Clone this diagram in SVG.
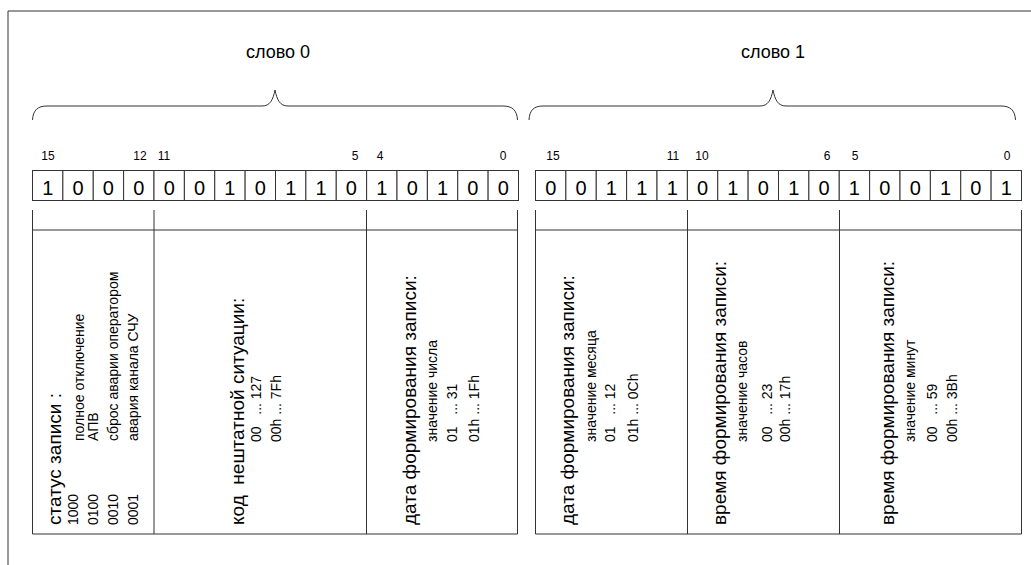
<svg xmlns="http://www.w3.org/2000/svg" width="1031" height="565" viewBox="0 0 1031 565">
<style>
text{font-family:"Liberation Sans",Arial,sans-serif;fill:#000}
.ln{stroke:#333;stroke-width:1;fill:none}
.cell{fill:#fff;stroke:#333;stroke-width:1}
.bit{font-size:20px;text-anchor:middle}
.num{font-size:12px;text-anchor:middle}
.word{font-size:18px;text-anchor:middle}
.big{font-size:19px;white-space:pre}
.sm{font-size:14px;white-space:pre}
</style>
<rect width="1031" height="565" fill="#fff"/>
<g id="frame"><path class="ln" d="M8,565 V11 H1031"/></g>
<g id="connectors">
<path class="ln" d="M32.5,120 C33,110 38,106 47,106 H262 C270,106 273,100 275,90 C277,100 280,106 288,106 H503 C512,106 517,110 517.5,120"/>
<path class="ln" d="M529,120 C529.5,110 534,106 543,106 H760 C768,106 771,100 773,90 C775,100 778,106 786,106 H1001 C1010,106 1015,110 1015.5,120"/>
<path class="ln" d="M32.5,210 V534 M154,210 V534 M366.5,210 V534 M517.5,210 V534 M32.5,230 H517.5 M32.5,534 H517.5"/>
<path class="ln" d="M535.5,210 V534 M687.5,210 V534 M839.5,210 V534 M1021.5,210 V534 M535.5,230 H1021.5 M535.5,534 H1021.5"/>
</g>
<g id="word0">
<text class="word" x="278" y="58">слово 0</text>
<g class="num-labels">
<text class="num" x="48" y="160">15</text><text class="num" x="140" y="160">12</text><text class="num" x="164" y="160">11</text><text class="num" x="355" y="160">5</text><text class="num" x="380" y="160">4</text><text class="num" x="503" y="160">0</text>
</g>
<g id="bits0">
<rect class="cell" x="32.5" y="170.5" width="30.375" height="30"/><rect class="cell" x="62.875" y="170.5" width="30.375" height="30"/><rect class="cell" x="93.25" y="170.5" width="30.375" height="30"/><rect class="cell" x="123.625" y="170.5" width="30.375" height="30"/><rect class="cell" x="154" y="170.5" width="30.375" height="30"/><rect class="cell" x="184.375" y="170.5" width="30.375" height="30"/><rect class="cell" x="214.75" y="170.5" width="30.375" height="30"/><rect class="cell" x="245.125" y="170.5" width="30.375" height="30"/><rect class="cell" x="275.5" y="170.5" width="30.375" height="30"/><rect class="cell" x="305.875" y="170.5" width="30.375" height="30"/><rect class="cell" x="336.25" y="170.5" width="30.375" height="30"/><rect class="cell" x="366.625" y="170.5" width="30.375" height="30"/><rect class="cell" x="397" y="170.5" width="30.375" height="30"/><rect class="cell" x="427.375" y="170.5" width="30.375" height="30"/><rect class="cell" x="457.75" y="170.5" width="30.375" height="30"/><rect class="cell" x="488.125" y="170.5" width="30.375" height="30"/>
<text class="bit" x="47.7" y="195">1</text><text class="bit" x="78.1" y="195">0</text><text class="bit" x="108.4" y="195">0</text><text class="bit" x="138.8" y="195">0</text><text class="bit" x="169.2" y="195">0</text><text class="bit" x="199.6" y="195">0</text><text class="bit" x="229.9" y="195">1</text><text class="bit" x="260.3" y="195">0</text><text class="bit" x="290.7" y="195">1</text><text class="bit" x="321.1" y="195">1</text><text class="bit" x="351.4" y="195">0</text><text class="bit" x="381.8" y="195">1</text><text class="bit" x="412.2" y="195">0</text><text class="bit" x="442.6" y="195">1</text><text class="bit" x="472.9" y="195">0</text><text class="bit" x="503.3" y="195">0</text>
</g>
</g>
<g id="word1">
<text class="word" x="773" y="58">слово 1</text>
<g class="num-labels">
<text class="num" x="553" y="160">15</text><text class="num" x="673" y="160">11</text><text class="num" x="702" y="160">10</text><text class="num" x="827" y="160">6</text><text class="num" x="855" y="160">5</text><text class="num" x="1007" y="160">0</text>
</g>
<g id="bits1">
<rect class="cell" x="535.5" y="170.5" width="30.375" height="30"/><rect class="cell" x="565.875" y="170.5" width="30.375" height="30"/><rect class="cell" x="596.25" y="170.5" width="30.375" height="30"/><rect class="cell" x="626.625" y="170.5" width="30.375" height="30"/><rect class="cell" x="657" y="170.5" width="30.375" height="30"/><rect class="cell" x="687.375" y="170.5" width="30.375" height="30"/><rect class="cell" x="717.75" y="170.5" width="30.375" height="30"/><rect class="cell" x="748.125" y="170.5" width="30.375" height="30"/><rect class="cell" x="778.5" y="170.5" width="30.375" height="30"/><rect class="cell" x="808.875" y="170.5" width="30.375" height="30"/><rect class="cell" x="839.25" y="170.5" width="30.375" height="30"/><rect class="cell" x="869.625" y="170.5" width="30.375" height="30"/><rect class="cell" x="900" y="170.5" width="30.375" height="30"/><rect class="cell" x="930.375" y="170.5" width="30.375" height="30"/><rect class="cell" x="960.75" y="170.5" width="30.375" height="30"/><rect class="cell" x="991.125" y="170.5" width="30.375" height="30"/>
<text class="bit" x="550.7" y="195">0</text><text class="bit" x="581.1" y="195">0</text><text class="bit" x="611.4" y="195">1</text><text class="bit" x="641.8" y="195">1</text><text class="bit" x="672.2" y="195">1</text><text class="bit" x="702.6" y="195">0</text><text class="bit" x="732.9" y="195">1</text><text class="bit" x="763.3" y="195">0</text><text class="bit" x="793.7" y="195">1</text><text class="bit" x="824.1" y="195">0</text><text class="bit" x="854.4" y="195">1</text><text class="bit" x="884.8" y="195">0</text><text class="bit" x="915.2" y="195">0</text><text class="bit" x="945.6" y="195">1</text><text class="bit" x="975.9" y="195">0</text><text class="bit" x="1006.3" y="195">1</text>
</g>
</g>
<g id="field-status">
<text class="big" transform="translate(61,525) rotate(-90)">статус записи :</text>
<text class="sm" transform="translate(78,525) rotate(-90)">1000</text>
<text class="sm" transform="translate(84,441) rotate(-90)">полное отключение</text>
<text class="sm" transform="translate(98,525) rotate(-90)">0100</text>
<text class="sm" transform="translate(98,441) rotate(-90)">АПВ</text>
<text class="sm" transform="translate(118,525) rotate(-90)">0010</text>
<text class="sm" transform="translate(118,441) rotate(-90)">сброс аварии оператором</text>
<text class="sm" transform="translate(138,525) rotate(-90)">0001</text>
<text class="sm" transform="translate(138,441) rotate(-90)">авария канала СЧУ</text>
</g>
<g id="field-code">
<text class="big" transform="translate(244,525) rotate(-90)">код  нештатной ситуации:</text>
<text class="sm" transform="translate(261,442) rotate(-90)">00   ... 127</text>
<text class="sm" transform="translate(281,442) rotate(-90)">00h ... 7Fh</text>
</g>
<g id="field-day">
<text class="big" transform="translate(416,525) rotate(-90)">дата формирования записи:</text>
<text class="sm" transform="translate(437,442) rotate(-90)">значение числа</text>
<text class="sm" transform="translate(457,442) rotate(-90)">01   ... 31</text>
<text class="sm" transform="translate(479,442) rotate(-90)">01h ... 1Fh</text>
</g>
<g id="field-month">
<text class="big" transform="translate(574,525) rotate(-90)">дата формирования записи:</text>
<text class="sm" transform="translate(596,442) rotate(-90)">значение месяца</text>
<text class="sm" transform="translate(615,442) rotate(-90)">01   ... 12</text>
<text class="sm" transform="translate(638,442) rotate(-90)">01h ... 0Ch</text>
</g>
<g id="field-hour">
<text class="big" transform="translate(726,525) rotate(-90)">время формирования записи:</text>
<text class="sm" transform="translate(747,442) rotate(-90)">значение часов</text>
<text class="sm" transform="translate(772,442) rotate(-90)">00   ... 23</text>
<text class="sm" transform="translate(790,442) rotate(-90)">00h ... 17h</text>
</g>
<g id="field-minute">
<text class="big" transform="translate(894,525) rotate(-90)">время формирования записи:</text>
<text class="sm" transform="translate(915,442) rotate(-90)">значение минут</text>
<text class="sm" transform="translate(937,442) rotate(-90)">00   ... 59</text>
<text class="sm" transform="translate(957,442) rotate(-90)">00h ... 3Bh</text>
</g>
</svg>
